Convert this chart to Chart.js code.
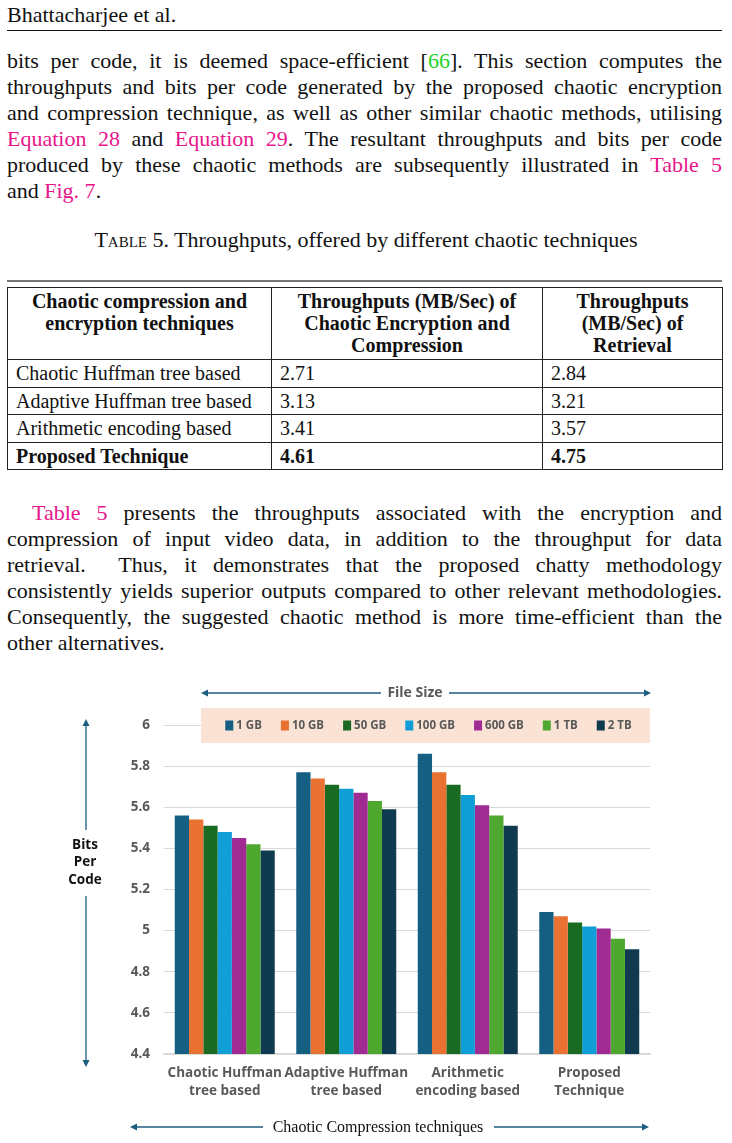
<!DOCTYPE html>
<html>
<head>
<meta charset="utf-8">
<script src="https://cdn.jsdelivr.net/npm/chart.js@4.4.1/dist/chart.umd.min.js"></script>
<style>
  body { margin: 0; width: 732px; height: 1143px; position: relative; background: #fff; overflow: hidden;
         font-family: "Liberation Serif", "DejaVu Serif", serif; color: #111; }
  .abs { position: absolute; }
  .ln { font-family: "Liberation Serif", serif; font-size: 22px; line-height: 26px; height: 26px;
        text-align: justify; text-align-last: justify; white-space: normal; }
  .ln.last { text-align-last: left; }
  .lk { color: #e8158b; }
  .gr { color: #22d322; }
  .sc { font-variant: small-caps; }
  table { border-collapse: collapse; font-size: 20px; font-family: "Liberation Serif", serif; }
  td, th { border: 1px solid #222; padding: 0 8px; }
  th { font-weight: bold; line-height: 22px; vertical-align: top; padding-top: 2px; height: 69px; text-align: center; }
  td { height: 26.5px; line-height: 26px; }
  #chartBox { position: absolute; left: 0; top: 660px; width: 732px; height: 483px; }
</style>
</head>
<body>

<div class="abs" style="left:7px;top:2px;font-size:22px;line-height:26px;">Bhattacharjee et al.</div>
<div class="abs" style="left:7px;top:30px;width:715px;height:1px;background:#111;"></div>

<div class="abs" style="left:7px;top:48px;width:715px;">
  <div class="ln">bits per code, it is deemed space-efficient [<span class="gr">66</span>]. This section computes the</div>
  <div class="ln">throughputs and bits per code generated by the proposed chaotic encryption</div>
  <div class="ln">and compression technique, as well as other similar chaotic methods, utilising</div>
  <div class="ln"><span class="lk">Equation 28</span> and <span class="lk">Equation 29</span>. The resultant throughputs and bits per code</div>
  <div class="ln">produced by these chaotic methods are subsequently illustrated in <span class="lk">Table 5</span></div>
  <div class="ln last">and <span class="lk">Fig. 7</span>.</div>
</div>

<div class="abs" style="left:0;top:227px;width:732px;text-align:center;font-size:22px;line-height:26px;">
  <span class="sc">Table</span> 5. Throughputs, offered by different chaotic techniques</div>

<div class="abs" style="left:7px;top:280px;width:715px;height:2px;background:#777;"></div>

<table class="abs" style="left:7px;top:287px;width:716px;">
  <tr>
    <th style="width:247px;">Chaotic compression and<br>encryption techniques</th>
    <th style="width:254px;">Throughputs (MB/Sec) of<br>Chaotic Encryption and<br>Compression</th>
    <th>Throughputs<br>(MB/Sec) of<br>Retrieval</th>
  </tr>
  <tr><td>Chaotic Huffman tree based</td><td>2.71</td><td>2.84</td></tr>
  <tr><td>Adaptive Huffman tree based</td><td>3.13</td><td>3.21</td></tr>
  <tr><td>Arithmetic encoding based</td><td>3.41</td><td>3.57</td></tr>
  <tr><td><b>Proposed Technique</b></td><td><b>4.61</b></td><td><b>4.75</b></td></tr>
</table>

<div class="abs" style="left:7px;top:500px;width:715px;">
  <div class="ln" style="padding-left:25px;"><span class="lk">Table 5</span> presents the throughputs associated with the encryption and</div>
  <div class="ln">compression of input video data, in addition to the throughput for data</div>
  <div class="ln">retrieval.&nbsp; Thus, it demonstrates that the proposed chatty methodology</div>
  <div class="ln">consistently yields superior outputs compared to other relevant methodologies.</div>
  <div class="ln">Consequently, the suggested chaotic method is more time-efficient than the</div>
  <div class="ln last">other alternatives.</div>
</div>

<div id="chartBox"><canvas id="bpcChart"></canvas></div>

<script>
// categories and series values (bits per code)
const categories = [
  ['Chaotic Huffman', 'tree based'],
  ['Adaptive Huffman', 'tree based'],
  ['Arithmetic', 'encoding based'],
  ['Proposed', 'Technique']
];
const seriesNames = ['1 GB', '10 GB', '50 GB', '100 GB', '600 GB', '1 TB', '2 TB'];
const size1GB   = [5.56, 5.77, 5.86, 5.09];
const size10GB  = [5.54, 5.74, 5.77, 5.07];
const size50GB  = [5.51, 5.71, 5.71, 5.04];
const size100GB = [5.48, 5.69, 5.66, 5.02];
const size600GB = [5.45, 5.67, 5.61, 5.01];
const size1TB   = [5.42, 5.63, 5.56, 4.96];
const size2TB   = [5.39, 5.59, 5.51, 4.91];
const yTicks = [4.4, 4.6, 4.8, 5, 5.2, 5.4, 5.6, 5.8, 6];

const seriesColors = ['#156082', '#e97132', '#196b24', '#0f9ed5', '#a02b93', '#4ea72e', '#0f3a50'];
const allSeries = [size1GB, size10GB, size50GB, size100GB, size600GB, size1TB, size2TB];

// squeeze text lines that would wrap
document.querySelectorAll('.ln').forEach(el => {
  let ws = 0;
  while (el.scrollHeight > 30 && ws > -6) {
    ws -= 0.5;
    el.style.wordSpacing = ws + 'px';
  }
});

const sansFont = '"Open Sans", "Noto Sans", sans-serif';
const OY = 660; // canvas top on page

function arrowHead(ctx, x, y, dir) {
  const L = 7, W = 3.5;
  ctx.beginPath();
  if (dir === 'l') { ctx.moveTo(x, y); ctx.lineTo(x + L, y - W); ctx.lineTo(x + L, y + W); }
  if (dir === 'r') { ctx.moveTo(x, y); ctx.lineTo(x - L, y - W); ctx.lineTo(x - L, y + W); }
  if (dir === 'u') { ctx.moveTo(x, y); ctx.lineTo(x - W, y + L); ctx.lineTo(x + W, y + L); }
  if (dir === 'd') { ctx.moveTo(x, y); ctx.lineTo(x - W, y - L); ctx.lineTo(x + W, y - L); }
  ctx.closePath();
  ctx.fill();
}

function line(ctx, x1, y1, x2, y2) {
  ctx.beginPath();
  ctx.moveTo(x1, y1);
  ctx.lineTo(x2, y2);
  ctx.stroke();
}

const decorPlugin = {
  id: 'decor',
  afterDatasetsDraw(chart) {
    const ctx = chart.ctx;
    ctx.save();
    // legend box, drawn over the top gridline
    const bx = 201, by = 708 - OY, bw = 449, bh = 35;
    ctx.fillStyle = '#fae2d5';
    ctx.fillRect(bx, by, bw, bh);
    ctx.font = 'bold 11.5px ' + sansFont;
    ctx.textBaseline = 'middle';
    ctx.textAlign = 'left';
    const sq = 8, sgap = 3, gap = 19;
    const widths = seriesNames.map(n => sq + sgap + ctx.measureText(n).width);
    const total = widths.reduce((a, b) => a + b, 0) + gap * (widths.length - 1);
    let x = bx + (bw - total) / 2 + 3;
    const cy = by + bh / 2;
    chart.data.datasets.forEach((ds, i) => {
      ctx.fillStyle = ds.backgroundColor;
      ctx.fillRect(x, cy - 5, sq, 10);
      ctx.fillStyle = '#595959';
      ctx.fillText(ds.label, x + sq + sgap, cy + 0.5);
      x += widths[i] + gap;
    });
    ctx.restore();
  },
  afterDraw(chart) {
    const ctx = chart.ctx;
    ctx.save();
    ctx.strokeStyle = '#1d5d80';
    ctx.fillStyle = '#1d5d80';
    ctx.lineWidth = 1.3;

    // File Size header
    const fy = 693 - OY;
    line(ctx, 204, fy, 381, fy);
    line(ctx, 449, fy, 648, fy);
    arrowHead(ctx, 201, fy, 'l');
    arrowHead(ctx, 651, fy, 'r');
    ctx.fillStyle = '#595959';
    ctx.font = 'bold 14px ' + sansFont;
    ctx.textAlign = 'center';
    ctx.textBaseline = 'middle';
    ctx.fillText('File Size', 415, fy + 0.5);

    // vertical axis arrow and title
    ctx.fillStyle = '#1d5d80';
    line(ctx, 86, 722 - OY, 86, 830 - OY);
    line(ctx, 86, 896 - OY, 86, 1064 - OY);
    arrowHead(ctx, 86, 719 - OY, 'u');
    arrowHead(ctx, 86, 1067 - OY, 'd');
    ctx.fillStyle = '#111';
    ctx.font = 'bold 13.5px ' + sansFont;
    ctx.fillText('Bits', 85, 845 - OY);
    ctx.fillText('Per', 85, 862 - OY);
    ctx.fillText('Code', 85, 880 - OY);

    // bottom axis title with arrows
    const by2 = 1127 - OY;
    ctx.fillStyle = '#1d5d80';
    line(ctx, 133, by2, 263, by2);
    line(ctx, 494, by2, 646, by2);
    arrowHead(ctx, 130, by2, 'l');
    arrowHead(ctx, 649, by2, 'r');
    ctx.fillStyle = '#111';
    ctx.font = '16px "Liberation Serif", serif';
    ctx.fillText('Chaotic Compression techniques', 378, by2 + 1);
    ctx.restore();
  }
};

new Chart(document.getElementById('bpcChart').getContext('2d'), {
  type: 'bar',
  data: {
    labels: categories,
    datasets: seriesNames.map((name, i) => ({
      label: name,
      data: allSeries[i],
      backgroundColor: seriesColors[i],
      borderWidth: 0,
      categoryPercentage: 0.823,
      barPercentage: 1.0
    }))
  },
  options: {
    responsive: true,
    maintainAspectRatio: false,
    animation: false,
    layout: { padding: { top: 65, left: 114, right: 82, bottom: 39 } },
    plugins: {
      legend: { display: false },
      tooltip: { enabled: false }
    },
    scales: {
      x: {
        grid: { display: false },
        border: { display: true, color: '#d9d9d9', width: 1.5 },
        ticks: {
          color: '#595959',
          font: { family: sansFont, size: 13.5, weight: 'bold', lineHeight: 1.27 },
          padding: 3,
          maxRotation: 0,
          autoSkip: false
        },
        afterFit: s => { s.height = 50; }
      },
      y: {
        min: yTicks[0],
        max: yTicks[yTicks.length - 1],
        afterBuildTicks: s => { s.ticks = yTicks.map(v => ({ value: v })); },
        grid: { color: '#d9d9d9', lineWidth: 1, drawTicks: false },
        border: { display: false },
        ticks: {
          color: '#595959',
          font: { family: sansFont, size: 13.5, weight: 'bold' },
          padding: 14,
          callback: v => String(Number(v.toFixed(1)))
        },
        afterFit: s => { s.width = 50; }
      }
    }
  },
  plugins: [decorPlugin]
});
</script>
</body>
</html>
